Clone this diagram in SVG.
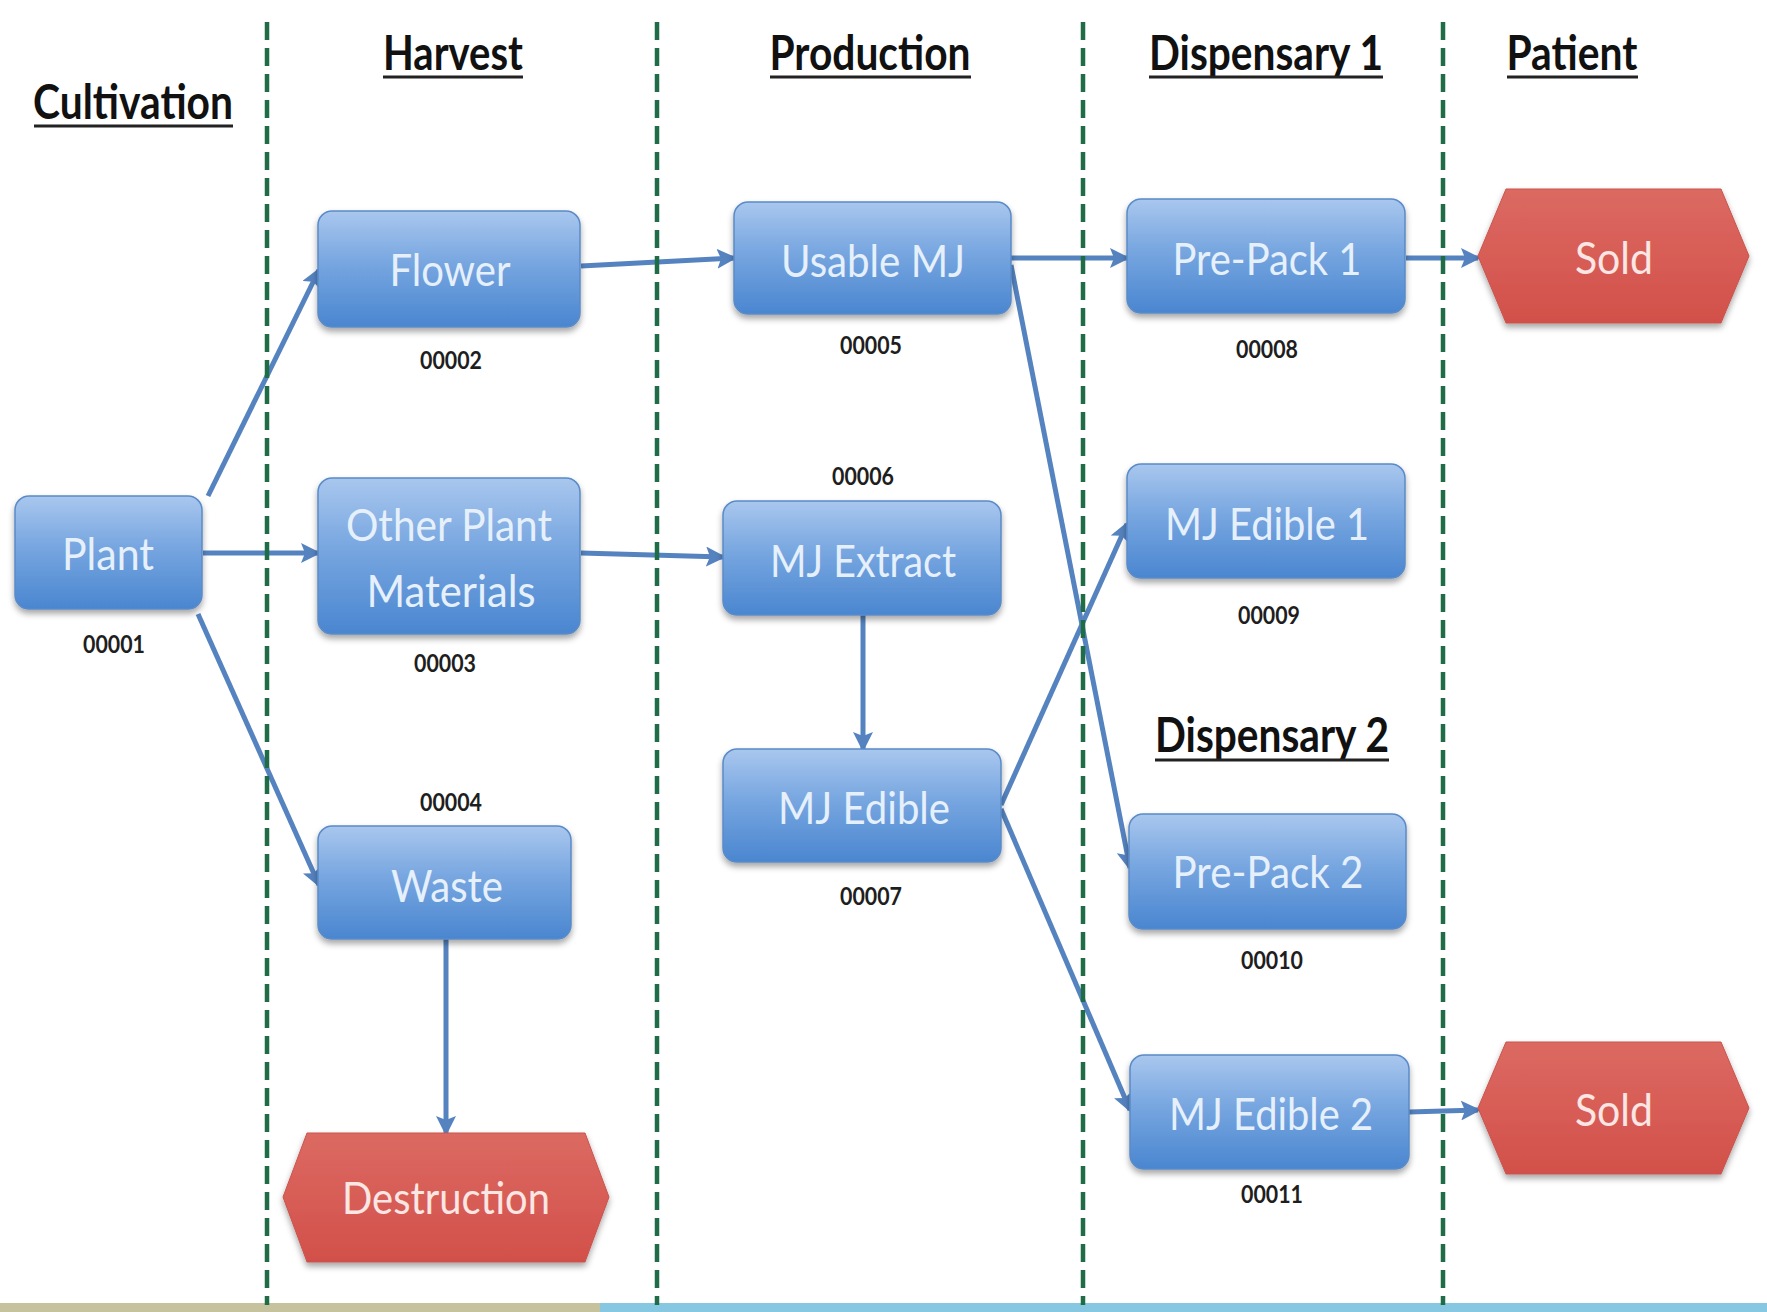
<svg xmlns="http://www.w3.org/2000/svg" width="1767" height="1312" viewBox="0 0 1767 1312">
  <defs>
    <linearGradient id="blueFill" x1="0" y1="0" x2="0" y2="1">
      <stop offset="0" stop-color="#a9c7ee"/>
      <stop offset="0.45" stop-color="#77a6e0"/>
      <stop offset="1" stop-color="#4a86d0"/>
    </linearGradient>
    <linearGradient id="redFill" x1="0" y1="0" x2="0" y2="1">
      <stop offset="0" stop-color="#dc6a62"/>
      <stop offset="1" stop-color="#d2504a"/>
    </linearGradient>
    <filter id="shadow" x="-10%" y="-10%" width="120%" height="135%">
      <feDropShadow dx="0" dy="4" stdDeviation="3" flood-color="#000" flood-opacity="0.35"/>
    </filter>
    <marker id="arrow" viewBox="0 0 20 20" refX="17" refY="10" markerWidth="20" markerHeight="20" markerUnits="userSpaceOnUse" orient="auto">
      <path d="M0,0 L20,10 L0,20 L4,10 z" fill="#5583c0"/>
    </marker>
    <style>
      .box { fill: url(#blueFill); stroke: #5a8bc8; stroke-width: 1.5; filter: url(#shadow); }
      .end { fill: url(#redFill); stroke: #c9534d; stroke-width: 1; filter: url(#shadow); }
      .label { font-family: Lato, "Open Sans", sans-serif; font-size: 45px; fill: #e6f0fb; text-anchor: middle; }
      .endlabel { font-family: Lato, "Open Sans", sans-serif; font-size: 45px; fill: #fbe6e3; text-anchor: middle; }
      .id { font-family: Lato, "Open Sans", sans-serif; font-size: 24px; font-weight: 700; fill: #1e1e1e; text-anchor: middle; }
      .head { font-family: Lato, "Open Sans", sans-serif; font-size: 48px; font-weight: 700; fill: #111; text-anchor: middle; }
      .uline { stroke: #222; stroke-width: 3; }
      .lane { stroke: #1f6c47; stroke-width: 4.5; stroke-dasharray: 18 8; }
      .conn { stroke: #5583c0; stroke-width: 5; fill: none; marker-end: url(#arrow); }
    </style>
  </defs>

  <rect width="1767" height="1312" fill="#ffffff"/>

  <!-- bottom colour band -->
  <rect x="0" y="1303" width="600" height="9" fill="#c6c29e"/>
  <rect x="600" y="1303" width="1167" height="9" fill="#86c7e2"/>

  <!-- column headings -->
  <g id="headings">
    <text class="head" x="133" y="119" textLength="200" lengthAdjust="spacingAndGlyphs">Cultivation</text>
    <line class="uline" x1="34" y1="126" x2="233" y2="126"/>
    <text class="head" x="453" y="70" textLength="140" lengthAdjust="spacingAndGlyphs">Harvest</text>
    <line class="uline" x1="383" y1="77" x2="523" y2="77"/>
    <text class="head" x="870" y="70" textLength="201" lengthAdjust="spacingAndGlyphs">Production</text>
    <line class="uline" x1="770" y1="77" x2="971" y2="77"/>
    <text class="head" x="1266" y="70" textLength="234" lengthAdjust="spacingAndGlyphs">Dispensary 1</text>
    <line class="uline" x1="1149" y1="77" x2="1383" y2="77"/>
    <text class="head" x="1572" y="70" textLength="131" lengthAdjust="spacingAndGlyphs">Patient</text>
    <line class="uline" x1="1507" y1="77" x2="1638" y2="77"/>
    <text class="head" x="1272" y="752" textLength="234" lengthAdjust="spacingAndGlyphs">Dispensary 2</text>
    <line class="uline" x1="1155" y1="760" x2="1389" y2="760"/>
  </g>

  <!-- flow connectors -->
  <g id="connectors">
    <line class="conn" x1="208" y1="496" x2="319" y2="270"/>
    <line class="conn" x1="203" y1="553" x2="318" y2="553"/>
    <line class="conn" x1="198" y1="614" x2="319" y2="885"/>
    <line class="conn" x1="581" y1="266" x2="734" y2="258"/>
    <line class="conn" x1="581" y1="553" x2="723" y2="557"/>
    <line class="conn" x1="863" y1="615" x2="863" y2="749"/>
    <line class="conn" x1="446" y1="939" x2="446" y2="1133"/>
    <line class="conn" x1="1011" y1="258" x2="1127" y2="258"/>
    <line class="conn" x1="1011" y1="265" x2="1130" y2="868"/>
    <line class="conn" x1="1001" y1="805" x2="1127" y2="524"/>
    <line class="conn" x1="1001" y1="809" x2="1130" y2="1110"/>
    <line class="conn" x1="1406" y1="258" x2="1478" y2="258"/>
    <line class="conn" x1="1409" y1="1112" x2="1478" y2="1110"/>
  </g>

  <!-- stage separators -->
  <g id="lanes">
    <line class="lane" x1="267" y1="22" x2="267" y2="1305"/>
    <line class="lane" x1="657" y1="22" x2="657" y2="1305"/>
    <line class="lane" x1="1083" y1="22" x2="1083" y2="1305"/>
    <line class="lane" x1="1443" y1="22" x2="1443" y2="1305"/>
  </g>

  <g id="plant">
    <rect class="box" x="15" y="496" width="187" height="113" rx="14"/>
    <text class="label" x="108" y="570" textLength="92" lengthAdjust="spacingAndGlyphs">Plant</text>
    <text class="id" x="114" y="653" textLength="62" lengthAdjust="spacingAndGlyphs">00001</text>
  </g>
  <g id="flower">
    <rect class="box" x="318" y="211" width="262" height="116" rx="14"/>
    <text class="label" x="450" y="286" textLength="121" lengthAdjust="spacingAndGlyphs">Flower</text>
    <text class="id" x="451" y="369" textLength="62" lengthAdjust="spacingAndGlyphs">00002</text>
  </g>
  <g id="other-plant-materials">
    <rect class="box" x="318" y="478" width="262" height="156" rx="14"/>
    <text class="label" x="449" y="541" textLength="206" lengthAdjust="spacingAndGlyphs">Other Plant</text>
    <text class="label" x="451" y="607" textLength="169" lengthAdjust="spacingAndGlyphs">Materials</text>
    <text class="id" x="445" y="672" textLength="62" lengthAdjust="spacingAndGlyphs">00003</text>
  </g>
  <g id="waste">
    <rect class="box" x="318" y="826" width="253" height="113" rx="14"/>
    <text class="label" x="447" y="902" textLength="112" lengthAdjust="spacingAndGlyphs">Waste</text>
    <text class="id" x="451" y="811" textLength="62" lengthAdjust="spacingAndGlyphs">00004</text>
  </g>
  <g id="destruction">
    <polygon class="end" points="283,1197 307,1133 585,1133 609,1197 585,1262 307,1262"/>
    <text class="endlabel" x="446" y="1214" textLength="208" lengthAdjust="spacingAndGlyphs">Destruction</text>
  </g>
  <g id="usable-mj">
    <rect class="box" x="734" y="202" width="277" height="112" rx="14"/>
    <text class="label" x="873" y="277" textLength="184" lengthAdjust="spacingAndGlyphs">Usable MJ</text>
    <text class="id" x="871" y="354" textLength="62" lengthAdjust="spacingAndGlyphs">00005</text>
  </g>
  <g id="mj-extract">
    <rect class="box" x="723" y="501" width="278" height="114" rx="14"/>
    <text class="label" x="863" y="577" textLength="186" lengthAdjust="spacingAndGlyphs">MJ Extract</text>
    <text class="id" x="863" y="485" textLength="62" lengthAdjust="spacingAndGlyphs">00006</text>
  </g>
  <g id="mj-edible">
    <rect class="box" x="723" y="749" width="278" height="113" rx="14"/>
    <text class="label" x="864" y="824" textLength="172" lengthAdjust="spacingAndGlyphs">MJ Edible</text>
    <text class="id" x="871" y="905" textLength="62" lengthAdjust="spacingAndGlyphs">00007</text>
  </g>
  <g id="pre-pack-1">
    <rect class="box" x="1127" y="199" width="278" height="114" rx="14"/>
    <text class="label" x="1267" y="275" textLength="189" lengthAdjust="spacingAndGlyphs">Pre-Pack 1</text>
    <text class="id" x="1267" y="358" textLength="62" lengthAdjust="spacingAndGlyphs">00008</text>
  </g>
  <g id="mj-edible-1">
    <rect class="box" x="1127" y="464" width="278" height="114" rx="14"/>
    <text class="label" x="1267" y="540" textLength="204" lengthAdjust="spacingAndGlyphs">MJ Edible 1</text>
    <text class="id" x="1269" y="624" textLength="62" lengthAdjust="spacingAndGlyphs">00009</text>
  </g>
  <g id="pre-pack-2">
    <rect class="box" x="1129" y="814" width="277" height="115" rx="14"/>
    <text class="label" x="1268" y="888" textLength="191" lengthAdjust="spacingAndGlyphs">Pre-Pack 2</text>
    <text class="id" x="1272" y="969" textLength="62" lengthAdjust="spacingAndGlyphs">00010</text>
  </g>
  <g id="mj-edible-2">
    <rect class="box" x="1130" y="1055" width="279" height="114" rx="14"/>
    <text class="label" x="1271" y="1130" textLength="204" lengthAdjust="spacingAndGlyphs">MJ Edible 2</text>
    <text class="id" x="1272" y="1203" textLength="62" lengthAdjust="spacingAndGlyphs">00011</text>
  </g>
  <g id="sold-1">
    <polygon class="end" points="1478,256 1506,189 1721,189 1749,256 1721,323 1506,323"/>
    <text class="endlabel" x="1614" y="274" textLength="78" lengthAdjust="spacingAndGlyphs">Sold</text>
  </g>
  <g id="sold-2">
    <polygon class="end" points="1478,1108 1506,1042 1721,1042 1749,1108 1721,1174 1506,1174"/>
    <text class="endlabel" x="1614" y="1126" textLength="78" lengthAdjust="spacingAndGlyphs">Sold</text>
  </g>
</svg>
